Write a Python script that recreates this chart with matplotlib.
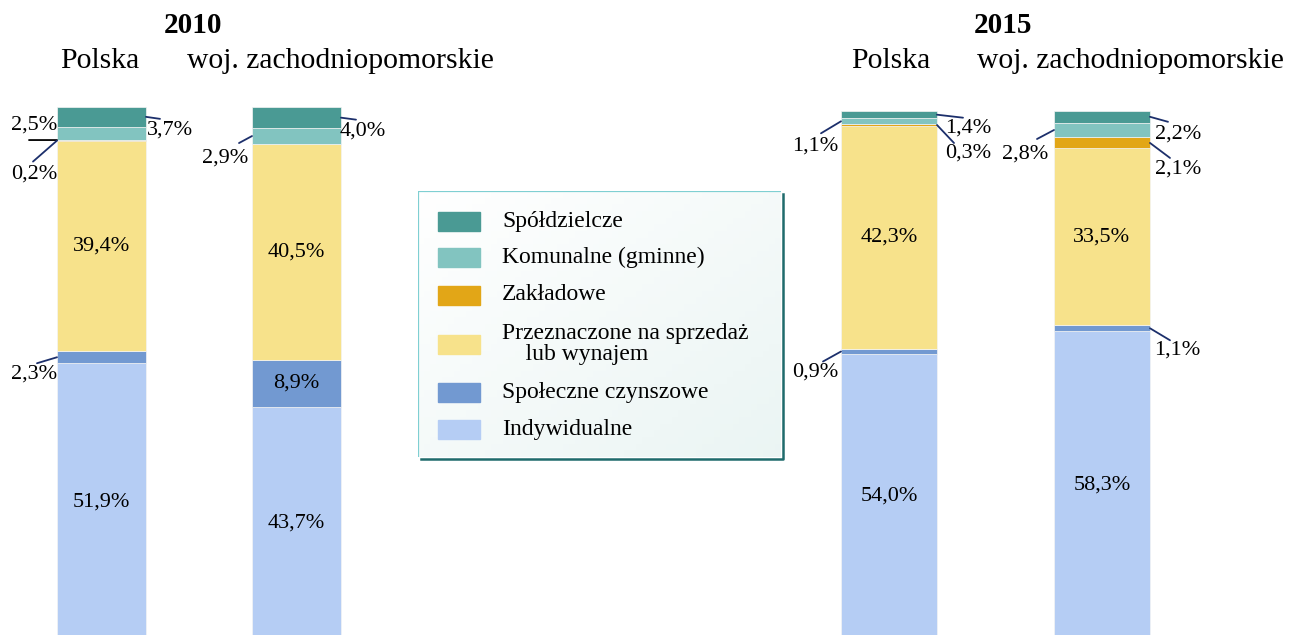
import matplotlib
matplotlib.use("Agg")
import matplotlib.pyplot as plt
import numpy as np
from matplotlib.patches import Rectangle
from matplotlib.lines import Line2D

plt.rcParams['font.family'] = ['Liberation Serif', 'DejaVu Serif']

# udział mieszkań oddanych do użytkowania wg form budownictwa (%), od dołu słupka
categories = ['Indywidualne', 'Społeczne czynszowe', 'Przeznaczone na sprzedaż\n    lub wynajem',
              'Zakładowe', 'Komunalne (gminne)', 'Spółdzielcze']
colors = ['#b5cdf4', '#7299d1', '#f7e28b', '#e2a617', '#82c4c0', '#4a9a94']
regions = ['Polska', 'woj. zachodniopomorskie']
polska_2010 = [51.9, 2.3, 39.4, 0.2, 2.5, 3.7]
zach_2010 = [43.7, 8.9, 40.5, 0.0, 2.9, 4.0]
polska_2015 = [54.0, 0.9, 42.3, 0.3, 1.1, 1.4]
zach_2015 = [58.3, 1.1, 33.5, 2.1, 2.8, 2.2]

W, H = 1297, 635
fig = plt.figure(figsize=(W / 100, H / 100), dpi=100)
line_col = '#1c2f6b'


def fmt(v):
    return f"{v:.1f}%".replace('.', ',')


def stack(ax, x, vals, width):
    bottom = 0
    for v, c in zip(vals, colors):
        ax.bar(x, v, width, bottom=bottom, color=c, edgecolor='#f4f4f4', linewidth=0.5)
        bottom += v


def callout(ax, x, vals, width, seg, side, line_off, text_off, frac=0.5, color=line_col):
    y = sum(vals[:seg]) + vals[seg] * frac
    xe = x + side * width / 2
    ax.annotate('', xy=(xe, y), xytext=line_off, textcoords='offset pixels',
                arrowprops=dict(arrowstyle='-', color=color, lw=1.3, shrinkA=0, shrinkB=0),
                annotation_clip=False)
    ax.annotate(fmt(vals[seg]), xy=(xe, y), xytext=text_off, textcoords='offset pixels',
                ha='center', va='center', fontsize=16, annotation_clip=False)


def inside(ax, x, vals, seg):
    y = sum(vals[:seg]) + vals[seg] / 2
    ax.text(x, y, fmt(vals[seg]), ha='center', va='center', fontsize=16)


# 2010
ax1 = fig.add_axes([0, (H - 640) / H, 400 / W, 533 / H])
w1 = 89 / 195
ax1.set_xlim(-101.5 / 195, (400 - 101.5) / 195)
ax1.set_ylim(0, 100)
ax1.axis('off')
stack(ax1, 0, polska_2010, w1)
stack(ax1, 1, zach_2010, w1)
for s in (0, 2):
    inside(ax1, 0, polska_2010, s)
for s in (0, 1, 2):
    inside(ax1, 1, zach_2010, s)
callout(ax1, 0, polska_2010, w1, 5, 1, (14, -2), (24, -13))
callout(ax1, 0, polska_2010, w1, 4, -1, (-28, 0), (-23, 15), frac=0, color='black')
callout(ax1, 0, polska_2010, w1, 3, -1, (-24, -21), (-23, -33))
callout(ax1, 0, polska_2010, w1, 1, -1, (-20, -6), (-23, -17))
callout(ax1, 1, zach_2010, w1, 5, 1, (15, -2), (22, -13))
callout(ax1, 1, zach_2010, w1, 4, -1, (-13, -7), (-27, -22))

# 2015
ax2 = fig.add_axes([700 / W, (H - 639) / H, 597 / W, 528 / H])
w2 = 96 / 213
ax2.set_xlim((700 - 889) / 213, (1297 - 889) / 213)
ax2.set_ylim(0, 100)
ax2.axis('off')
stack(ax2, 0, polska_2015, w2)
stack(ax2, 1, zach_2015, w2)
for s in (0, 2):
    inside(ax2, 0, polska_2015, s)
    inside(ax2, 1, zach_2015, s)
callout(ax2, 0, polska_2015, w2, 5, 1, (26, -3), (31, -13))
callout(ax2, 0, polska_2015, w2, 4, -1, (-20, -12), (-26, -25))
callout(ax2, 0, polska_2015, w2, 3, 1, (17, -18), (31, -28))
callout(ax2, 0, polska_2015, w2, 1, -1, (-18, -10), (-26, -21))
callout(ax2, 1, zach_2015, w2, 5, 1, (18, -5), (28, -17))
callout(ax2, 1, zach_2015, w2, 4, -1, (-17, -9), (-29, -24))
callout(ax2, 1, zach_2015, w2, 3, 1, (20, -15), (28, -26))
callout(ax2, 1, zach_2015, w2, 1, 1, (20, -12), (27, -22))

# nagłówki
for year, xs in (('2010', (193, 100, 340)), ('2015', (1003, 891, 1130))):
    fig.text(xs[0] / W, 1 - 33 / H, year, ha='center', va='baseline', fontsize=21, fontweight='bold')
    for name, xc in zip(regions, xs[1:]):
        fig.text(xc / W, 1 - 68 / H, name, ha='center', va='baseline', fontsize=21.3)

# legenda
L, T, R, B = 418, 191, 781, 457
axl = fig.add_axes([L / W, 1 - B / H, (R - L) / W, (B - T) / H])
axl.set_xlim(L, R)
axl.set_ylim(B, T)
axl.axis('off')
gx, gy = np.meshgrid(np.linspace(0, 1, 60), np.linspace(0, 1, 40))
g = (gx + gy) / 2
c0, c1 = np.array([1.0, 1.0, 1.0]), np.array([0.92, 0.96, 0.955])
img = c0 + (c1 - c0) * g[..., None]
axl.imshow(img, extent=(L, R, B, T), aspect='auto', zorder=0)
axl.plot([L, L, R], [B, T, T], color='#7fcfd2', lw=1.6, solid_capstyle='butt')
fig.add_artist(Line2D([(L + 3) / W, (R + 2) / W, (R + 2) / W],
                      [1 - (B + 2) / H, 1 - (B + 2) / H, 1 - (T + 3) / H],
                      color='#1f6b6c', lw=1.8))
row_y = [221, 257, 295, 344, 392, 429]
for name, c, y in zip(categories[::-1], colors[::-1], row_y):
    axl.add_patch(Rectangle((438, y - 9.5), 42, 19, color=c))
    axl.text(502, y, name, ha='left', va='center', fontsize=17, linespacing=1.05)

fig.savefig('out.png', dpi=100)
